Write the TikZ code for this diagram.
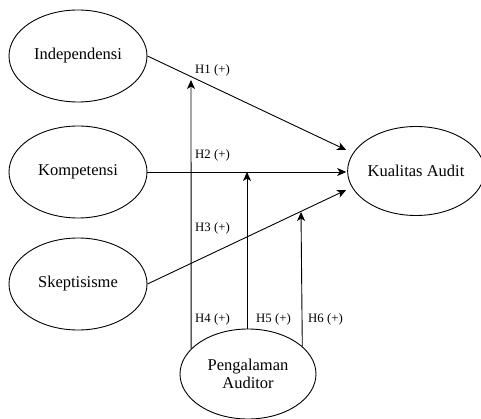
\documentclass[tikz,border=0pt]{standalone}
\usepackage{fontspec}
\setmainfont{Liberation Serif}
\usetikzlibrary{shapes.geometric,arrows.meta,calc}
\begin{document}
\begin{tikzpicture}[x=1pt,y=-1pt,
  var/.style={draw,ellipse,line width=0.9pt,minimum width=138pt,minimum height=92pt,inner sep=0pt,
    font=\fontsize{16.5}{18.5}\selectfont,align=center},
  link/.style={line width=0.9pt,-{Stealth[length=9pt,width=8pt,inset=2.5pt]}},
  hyp/.style={font=\fontsize{12.8}{14}\selectfont,anchor=base west,inner sep=0pt}]
\useasboundingbox (0,0) rectangle (481,419);
\node[var] (I) at (78,56) {Independensi};
\node[var] (K) at (78,172) {Kompetensi};
\node[var] (S) at (78,284) {Skeptisisme};
\node[var,minimum width=132pt,minimum height=89pt] (Q) at (416,171) {Kualitas Audit};
\node[var,minimum width=136pt,minimum height=90pt] (P) at (248,374) {Pengalaman\\Auditor};
\coordinate (t1) at ($(Q.west)+(-1,-21)$);
\coordinate (t2) at ($(Q.west)+(-1,1)$);
\coordinate (t3) at ($(Q.west)+(-1,19)$);
\draw[link] (I.east) -- (t1);
\draw[link] (K.east) -- (t2);
\draw[link] (S.east) -- (t3);
\coordinate (e4) at (191,80);
\coordinate (e5) at (247,172);
\coordinate (e6) at (301,212);
\draw[link] (P.156.7) -- (e4);
\draw[link] (P.north -| e5) -- (e5);
\draw[link] (P.27.8) -- (e6);
\node[hyp] (h1) at (195,74) {H1 (+)};
\node[hyp] (h2) at (195,159) {H2 (+)};
\node[hyp] (h3) at (195,232) {H3 (+)};
\node[hyp] (h4) at (195,322) {H4 (+)};
\node[hyp] (h5) at (256,322) {H5 (+)};
\node[hyp] (h6) at (308,322) {H6 (+)};
\end{tikzpicture}
\end{document}
